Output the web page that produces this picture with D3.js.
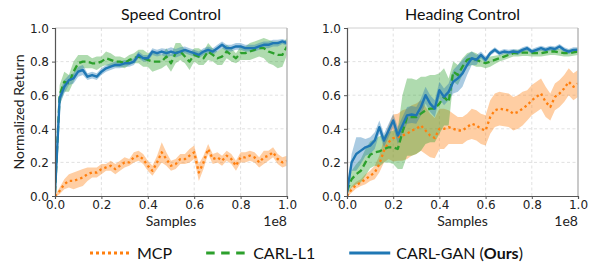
<!DOCTYPE html>
<html>
<head>
<meta charset="utf-8">
<script src="https://cdn.jsdelivr.net/npm/d3@7.9.0/dist/d3.min.js"></script>
<style>
  body { margin: 0; background: #fff; }
  svg { display: block; font-family: Lato, "Open Sans", sans-serif; }
  .tick text { font-family: "DejaVu Sans", sans-serif; font-size: 12px; fill: #222; }
</style>
</head>
<body>
<svg id="chart" width="595" height="263"></svg>
<script>
// samples (x 1e8), shared by all curves
const samples = [0, 0.02, 0.04, 0.06, 0.08, 0.1, 0.12, 0.14, 0.16, 0.18,
  0.2, 0.22, 0.24, 0.26, 0.28, 0.3, 0.32, 0.34, 0.36, 0.38,
  0.4, 0.42, 0.44, 0.46, 0.48, 0.5, 0.52, 0.54, 0.56, 0.58,
  0.6, 0.62, 0.64, 0.66, 0.68, 0.7, 0.72, 0.74, 0.76, 0.78,
  0.8, 0.82, 0.84, 0.86, 0.88, 0.9, 0.92, 0.94, 0.96, 0.98, 1.0];

const methods = ["MCP", "CARL-L1", "CARL-GAN"];

// Speed Control
const speedMCP = [0.00, 0.03, 0.07, 0.09, 0.09, 0.10, 0.11, 0.13, 0.14, 0.14,
  0.16, 0.17, 0.18, 0.16, 0.18, 0.20, 0.20, 0.23, 0.24, 0.22,
  0.18, 0.15, 0.20, 0.26, 0.22, 0.18, 0.19, 0.22, 0.22, 0.24,
  0.26, 0.14, 0.20, 0.28, 0.22, 0.23, 0.21, 0.24, 0.22, 0.18,
  0.23, 0.23, 0.24, 0.23, 0.20, 0.23, 0.24, 0.26, 0.22, 0.20, 0.21];
const speedMCPErr = [0.005, 0.02, 0.03, 0.04, 0.05, 0.05, 0.05, 0.04, 0.03, 0.03,
  0.03, 0.02, 0.03, 0.03, 0.03, 0.03, 0.02, 0.03, 0.03, 0.03,
  0.03, 0.03, 0.04, 0.06, 0.04, 0.03, 0.03, 0.03, 0.03, 0.04,
  0.04, 0.05, 0.04, 0.03, 0.03, 0.03, 0.03, 0.03, 0.03, 0.03,
  0.03, 0.03, 0.03, 0.03, 0.03, 0.04, 0.03, 0.03, 0.03, 0.03, 0.03];

const speedL1 = [0.02, 0.60, 0.68, 0.67, 0.74, 0.79, 0.80, 0.80, 0.79, 0.79,
  0.80, 0.82, 0.81, 0.80, 0.80, 0.79, 0.81, 0.82, 0.83, 0.82,
  0.81, 0.80, 0.80, 0.80, 0.83, 0.79, 0.85, 0.86, 0.83, 0.80,
  0.84, 0.83, 0.82, 0.86, 0.84, 0.82, 0.83, 0.86, 0.84, 0.82,
  0.85, 0.85, 0.86, 0.87, 0.88, 0.88, 0.86, 0.85, 0.84, 0.84, 0.89];
const speedL1Err = [0.01, 0.06, 0.06, 0.05, 0.06, 0.05, 0.04, 0.04, 0.03, 0.04,
  0.03, 0.04, 0.04, 0.03, 0.03, 0.03, 0.03, 0.03, 0.04, 0.05,
  0.04, 0.06, 0.05, 0.04, 0.05, 0.05, 0.06, 0.05, 0.04, 0.05,
  0.04, 0.05, 0.04, 0.05, 0.04, 0.04, 0.05, 0.04, 0.04, 0.03,
  0.04, 0.04, 0.05, 0.05, 0.05, 0.06, 0.07, 0.07, 0.08, 0.07, 0.05];

const speedGAN = [0.02, 0.58, 0.65, 0.69, 0.70, 0.74, 0.75, 0.71, 0.72, 0.71,
  0.74, 0.76, 0.77, 0.78, 0.78, 0.79, 0.79, 0.80, 0.84, 0.82,
  0.82, 0.86, 0.85, 0.86, 0.85, 0.86, 0.85, 0.86, 0.87, 0.86,
  0.85, 0.84, 0.86, 0.87, 0.86, 0.88, 0.90, 0.88, 0.88, 0.89,
  0.89, 0.88, 0.88, 0.88, 0.89, 0.90, 0.90, 0.91, 0.91, 0.92, 0.91];
const speedGANErr = [0.01, 0.04, 0.04, 0.03, 0.03, 0.03, 0.03, 0.02, 0.02, 0.02,
  0.02, 0.02, 0.02, 0.02, 0.02, 0.02, 0.02, 0.02, 0.02, 0.02,
  0.02, 0.02, 0.02, 0.02, 0.025, 0.025, 0.025, 0.025, 0.02, 0.02,
  0.02, 0.02, 0.02, 0.02, 0.02, 0.02, 0.02, 0.02, 0.02, 0.02,
  0.02, 0.02, 0.02, 0.02, 0.02, 0.02, 0.02, 0.02, 0.02, 0.015, 0.015];

// Heading Control
const headMCP = [0.00, 0.04, 0.065, 0.08, 0.10, 0.12, 0.14, 0.19, 0.27, 0.32,
  0.345, 0.35, 0.36, 0.37, 0.39, 0.40, 0.42, 0.39, 0.36, 0.345,
  0.40, 0.40, 0.41, 0.40, 0.39, 0.39, 0.41, 0.43, 0.42, 0.40,
  0.39, 0.47, 0.51, 0.52, 0.515, 0.51, 0.49, 0.50, 0.52, 0.54,
  0.57, 0.59, 0.61, 0.56, 0.53, 0.59, 0.61, 0.64, 0.68, 0.65, 0.67];
const headMCPErr = [0.005, 0.02, 0.02, 0.02, 0.03, 0.03, 0.04, 0.05, 0.07, 0.10,
  0.14, 0.14, 0.15, 0.15, 0.15, 0.15, 0.15, 0.14, 0.13, 0.12,
  0.12, 0.12, 0.10, 0.09, 0.08, 0.08, 0.08, 0.09, 0.09, 0.09,
  0.09, 0.10, 0.10, 0.10, 0.10, 0.10, 0.10, 0.10, 0.10, 0.09,
  0.09, 0.09, 0.09, 0.09, 0.08, 0.08, 0.08, 0.08, 0.08, 0.08, 0.08];

const headL1 = [0.03, 0.10, 0.13, 0.15, 0.20, 0.245, 0.26, 0.265, 0.28, 0.29,
  0.29, 0.28, 0.38, 0.47, 0.47, 0.47, 0.49, 0.51, 0.52, 0.52,
  0.55, 0.59, 0.56, 0.74, 0.72, 0.77, 0.81, 0.82, 0.81, 0.80,
  0.79, 0.80, 0.81, 0.82, 0.83, 0.84, 0.85, 0.85, 0.853, 0.853,
  0.85, 0.85, 0.85, 0.855, 0.86, 0.86, 0.855, 0.85, 0.85, 0.855, 0.86];
const headL1Err = [0.02, 0.05, 0.06, 0.07, 0.08, 0.08, 0.08, 0.09, 0.08, 0.09,
  0.10, 0.12, 0.22, 0.23, 0.23, 0.22, 0.22, 0.20, 0.20, 0.20,
  0.18, 0.17, 0.14, 0.06, 0.06, 0.05, 0.04, 0.04, 0.04, 0.03,
  0.03, 0.03, 0.025, 0.02, 0.02, 0.02, 0.02, 0.02, 0.02, 0.02,
  0.02, 0.02, 0.02, 0.02, 0.02, 0.02, 0.02, 0.02, 0.02, 0.02, 0.02];

const headGAN = [0.02, 0.20, 0.25, 0.27, 0.29, 0.30, 0.33, 0.41, 0.33, 0.39,
  0.45, 0.36, 0.42, 0.48, 0.485, 0.48, 0.53, 0.60, 0.55, 0.52,
  0.63, 0.59, 0.62, 0.68, 0.70, 0.73, 0.78, 0.82, 0.81, 0.84,
  0.81, 0.85, 0.87, 0.85, 0.86, 0.855, 0.86, 0.855, 0.87, 0.88,
  0.86, 0.87, 0.88, 0.87, 0.88, 0.875, 0.89, 0.87, 0.86, 0.87, 0.87];
const headGANErr = [0.01, 0.05, 0.10, 0.08, 0.05, 0.05, 0.05, 0.04, 0.04, 0.04,
  0.04, 0.05, 0.05, 0.05, 0.05, 0.05, 0.05, 0.05, 0.05, 0.05,
  0.05, 0.05, 0.05, 0.07, 0.08, 0.08, 0.06, 0.04, 0.03, 0.02,
  0.02, 0.015, 0.015, 0.015, 0.015, 0.015, 0.015, 0.015, 0.015, 0.015,
  0.015, 0.015, 0.015, 0.015, 0.015, 0.015, 0.015, 0.015, 0.015, 0.015, 0.015];

const xTicks = [0, 0.2, 0.4, 0.6, 0.8, 1.0];
const yTicks = [0, 0.2, 0.4, 0.6, 0.8, 1.0];

const colors = { "MCP": "#ff7f0e", "CARL-L1": "#2ca02c", "CARL-GAN": "#1f77b4" };
const dashes = { "MCP": "2.4,3", "CARL-L1": "6.5,3.5", "CARL-GAN": null };

const svg = d3.select("#chart");

function toPoints(vals, errs) {
  return samples.map((s, i) => ({ s, v: vals[i], e: errs[i] }));
}

function renderPanel(id, title, left, right, series) {
  const top = 28, bottom = 196;

  const x = d3.scaleLinear().domain([0, 1]).range([left, right]);
  const y = d3.scaleLinear().domain([0, 1]).range([bottom, top]);

  const g = svg.append("g").attr("class", "panel-" + id);

  svg.append("clipPath").attr("id", "clip-" + id)
    .append("rect")
    .attr("x", left).attr("y", top)
    .attr("width", right - left).attr("height", bottom - top);

  // gridlines
  g.append("g").selectAll("line")
    .data(xTicks.slice(1, -1))
    .join("line")
    .attr("x1", d => x(d)).attr("x2", d => x(d))
    .attr("y1", top).attr("y2", bottom)
    .attr("stroke", "#d9d9d9").attr("stroke-dasharray", "3,2.5").attr("stroke-width", 0.8);

  g.append("g").selectAll("line")
    .data(yTicks.slice(1, -1))
    .join("line")
    .attr("y1", d => y(d)).attr("y2", d => y(d))
    .attr("x1", left).attr("x2", right)
    .attr("stroke", "#d9d9d9").attr("stroke-dasharray", "3,2.5").attr("stroke-width", 0.8);

  const plot = g.append("g").attr("clip-path", `url(#clip-${id})`);

  const area = d3.area()
    .x(d => x(d.s))
    .y0(d => y(d.v - d.e))
    .y1(d => y(d.v + d.e));

  const line = d3.line()
    .x(d => x(d.s))
    .y(d => y(d.v));

  for (const m of methods) {
    plot.append("path")
      .datum(series[m])
      .attr("d", area)
      .attr("fill", colors[m])
      .attr("fill-opacity", 0.38);
  }

  for (const m of methods) {
    plot.append("path")
      .datum(series[m])
      .attr("d", line)
      .attr("fill", "none")
      .attr("stroke", colors[m])
      .attr("stroke-width", m === "CARL-GAN" ? 2.4 : 2.3)
      .attr("stroke-dasharray", dashes[m])
      .attr("stroke-linejoin", "round");
  }

  // frame: light top/right, darker left/bottom
  g.append("line")
    .attr("x1", left).attr("x2", right).attr("y1", top).attr("y2", top)
    .attr("stroke", "#d0d0d0").attr("stroke-width", 1);
  g.append("line")
    .attr("x1", right).attr("x2", right).attr("y1", top).attr("y2", bottom)
    .attr("stroke", "#b8b8b8").attr("stroke-width", 1.5);

  const xAxis = g.append("g")
    .attr("transform", `translate(0,${bottom})`)
    .call(d3.axisBottom(x).tickValues(xTicks).tickFormat(d3.format(".1f")).tickSize(3).tickPadding(1));

  const yAxis = g.append("g")
    .attr("transform", `translate(${left},0)`)
    .call(d3.axisLeft(y).tickValues(yTicks).tickFormat(d3.format(".1f")).tickSize(3).tickPadding(3));

  for (const ax of [xAxis, yAxis]) {
    ax.select(".domain").attr("stroke", "#555").attr("stroke-width", 1.2);
    ax.selectAll(".tick line").attr("stroke", "#555");
  }
  yAxis.selectAll(".tick text").attr("dy", "0.36em");

  g.append("text")
    .attr("x", (left + right) / 2)
    .attr("y", 20)
    .attr("text-anchor", "middle")
    .attr("font-size", 16)
    .attr("fill", "#111")
    .text(title);

  g.append("text")
    .attr("x", (left + right) / 2)
    .attr("y", 226)
    .attr("text-anchor", "middle")
    .attr("font-size", 14)
    .attr("fill", "#222")
    .text("Samples");

  g.append("text")
    .attr("x", right)
    .attr("y", 226)
    .attr("text-anchor", "end")
    .attr("font-size", 14)
    .attr("fill", "#222")
    .text("1e8");
}

renderPanel("speed", "Speed Control", 55, 287, {
  "MCP": toPoints(speedMCP, speedMCPErr),
  "CARL-L1": toPoints(speedL1, speedL1Err),
  "CARL-GAN": toPoints(speedGAN, speedGANErr)
});

renderPanel("heading", "Heading Control", 347, 578, {
  "MCP": toPoints(headMCP, headMCPErr),
  "CARL-L1": toPoints(headL1, headL1Err),
  "CARL-GAN": toPoints(headGAN, headGANErr)
});

svg.append("text")
  .attr("transform", "translate(24,112) rotate(-90)")
  .attr("text-anchor", "middle")
  .attr("font-size", 14)
  .attr("fill", "#222")
  .text("Normalized Return");

// legend
const legend = svg.append("g").attr("class", "legend");
const legendY = 253;
let lx = 90;

methods.forEach(m => {
  legend.append("line")
    .attr("x1", lx).attr("x2", lx + 41)
    .attr("y1", legendY).attr("y2", legendY)
    .attr("stroke", colors[m])
    .attr("stroke-width", 3.2)
    .attr("stroke-dasharray", m === "MCP" ? "3,3" : m === "CARL-L1" ? "8.5,6.5" : null);

  const t = legend.append("text")
    .attr("x", lx + 47)
    .attr("y", legendY + 5.5)
    .attr("font-size", 16)
    .attr("fill", "#111");

  if (m === "CARL-GAN") {
    t.append("tspan").text("CARL-GAN (");
    t.append("tspan").attr("font-weight", "bold").text("Ours");
    t.append("tspan").text(")");
  } else {
    t.text(m);
  }

  lx += 47 + t.node().getComputedTextLength() + 34;
});
</script>
</body>
</html>
